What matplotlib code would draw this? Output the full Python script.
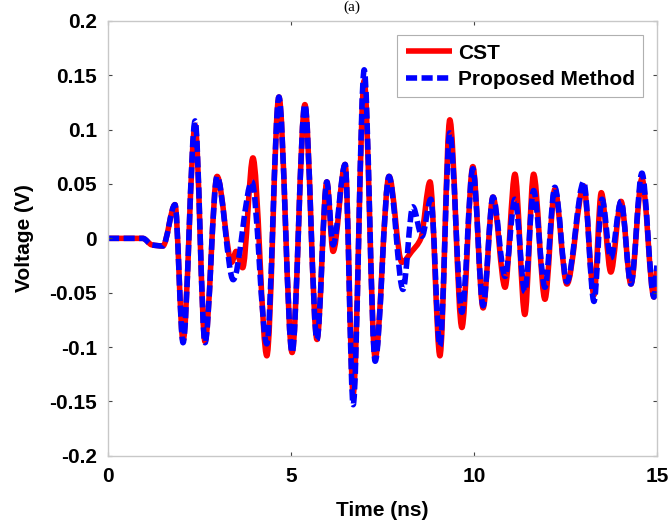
import matplotlib
matplotlib.use("Agg")
import matplotlib.pyplot as plt
from matplotlib.path import Path
from matplotlib.patches import PathPatch
from matplotlib.lines import Line2D
import numpy as np

# turning points of the two voltage traces (time in ns, voltage in V)
cst_t = [0.0, 0.95, 1.2, 1.5, 1.83, 2.05, 2.38, 2.65, 2.98, 3.38, 3.5, 3.68,
         3.96, 4.34, 4.67, 5.03, 5.38, 5.71, 5.98, 6.15, 6.48, 6.7, 7.0, 7.3,
         7.68, 8.03, 8.3, 8.55, 8.8, 9.07, 9.34, 9.67, 9.97, 10.25, 10.52,
         10.85, 11.12, 11.39, 11.63, 11.94, 12.21, 12.54, 13.0, 13.28, 13.48,
         13.74, 14.02, 14.29, 14.59, 14.92, 15.0]
cst_v = [0.0, 0.0, -0.006, -0.007, 0.031, -0.094, 0.104, -0.095, 0.057, -0.022,
         -0.012, -0.027, 0.074, -0.108, 0.130, -0.105, 0.123, -0.093, 0.052,
         -0.012, 0.068, -0.143, 0.145, -0.110, 0.057, -0.022, -0.012, 0.000,
         0.052, -0.108, 0.109, -0.082, 0.066, -0.064, 0.038, -0.045, 0.059,
         -0.070, 0.059, -0.056, 0.045, -0.042, 0.048, -0.052, 0.042, -0.031,
         0.034, -0.042, 0.055, -0.054, -0.028]

prop_t = [0.0, 0.95, 1.2, 1.5, 1.83, 2.05, 2.38, 2.65, 2.98, 3.42, 3.93, 4.34,
          4.67, 5.03, 5.38, 5.71, 5.98, 6.15, 6.48, 6.7, 7.0, 7.3, 7.68, 8.06,
          8.33, 8.58, 8.82, 9.07, 9.34, 9.67, 9.97, 10.25, 10.52, 10.85, 11.12,
          11.39, 11.63, 11.94, 12.21, 12.54, 13.0, 13.28, 13.5, 13.74, 14.02,
          14.29, 14.59, 14.92, 15.0]
prop_v = [0.0, 0.0, -0.006, -0.007, 0.031, -0.096, 0.108, -0.096, 0.057,
          -0.038, 0.052, -0.097, 0.130, -0.105, 0.123, -0.093, 0.052, -0.006,
          0.068, -0.153, 0.155, -0.113, 0.057, -0.047, 0.029, 0.002, 0.036,
          -0.099, 0.097, -0.068, 0.064, -0.062, 0.038, -0.035, 0.036, -0.049,
          0.044, -0.045, 0.047, -0.040, 0.052, -0.058, 0.036, -0.018, 0.034,
          -0.042, 0.060, -0.054, -0.025]

xticks = [0, 5, 10, 15]
yticks = [-0.2, -0.15, -0.1, -0.05, 0, 0.05, 0.1, 0.15, 0.2]


def smooth_path(t, v):
    # cubic segments through the turning points, flat at peaks and troughs
    t = np.asarray(t, float)
    v = np.asarray(v, float)
    sec = np.diff(v) / np.diff(t)
    m = np.zeros_like(v)
    m[0], m[-1] = sec[0], sec[-1]
    for i in range(1, len(v) - 1):
        a, b = sec[i - 1], sec[i]
        if a * b > 0:
            m[i] = 2.0 / (1.0 / a + 1.0 / b)
    verts = [(t[0], v[0])]
    codes = [Path.MOVETO]
    for i in range(len(t) - 1):
        h = (t[i + 1] - t[i]) / 3.0
        verts += [(t[i] + h, v[i] + m[i] * h),
                  (t[i + 1] - h, v[i + 1] - m[i + 1] * h),
                  (t[i + 1], v[i + 1])]
        codes += [Path.CURVE4] * 3
    return Path(verts, codes)


plt.rcParams["font.family"] = ["Liberation Sans", "DejaVu Sans"]
plt.rcParams["font.weight"] = "bold"
plt.rcParams["axes.unicode_minus"] = False

fig = plt.figure(figsize=(6.71, 5.21), dpi=100)
ax = fig.add_axes([0.161, 0.125, 0.818, 0.835])

LW = 4.0
red_style = dict(color="#ff0000", lw=LW, solid_capstyle="butt")
blue_style = dict(color="#0000ff", lw=LW, linestyle=(0, (2.0, 0.8)))

ax.add_patch(PathPatch(smooth_path(cst_t, cst_v), fill=False,
                       edgecolor="#ff0000", lw=LW, joinstyle="round"))
ax.add_patch(PathPatch(smooth_path(prop_t, prop_v), fill=False,
                       edgecolor="#0000ff", lw=LW, linestyle=(0, (2.0, 0.8)),
                       joinstyle="round"))

ax.set_xlim(0, 15)
ax.set_ylim(-0.2, 0.2)
ax.set_xticks(xticks)
ax.set_yticks(yticks)
ax.set_xticklabels([f"{x:g}" for x in xticks])
ax.set_yticklabels([f"{y:g}" for y in yticks])
ax.tick_params(direction="in", length=3, width=0.8, color="#444444",
               top=True, right=True, labelsize=15, pad=8)
for s in ax.spines.values():
    s.set_color("#c8c8c8")
    s.set_linewidth(1.0)

ax.set_xlabel("Time (ns)", fontsize=15, fontweight="bold", labelpad=11)
ax.set_ylabel("Voltage (V)", fontsize=15, fontweight="bold", labelpad=11)

handles = [Line2D([], [], **red_style), Line2D([], [], **blue_style)]
leg = ax.legend(handles, ["CST", "Proposed Method"], loc="upper right",
                bbox_to_anchor=(0.994, 0.991), fontsize=15, handlelength=2.2,
                handletextpad=0.3, borderpad=0.4, labelspacing=0.35,
                fancybox=False, framealpha=1.0, edgecolor="#b0b0b0")
leg.get_frame().set_linewidth(0.8)

fig.text(0.524, 0.999, "(a)", ha="center", va="top", fontsize=11,
         family="Liberation Serif", fontweight="normal")

fig.savefig("out.png", dpi=100)
